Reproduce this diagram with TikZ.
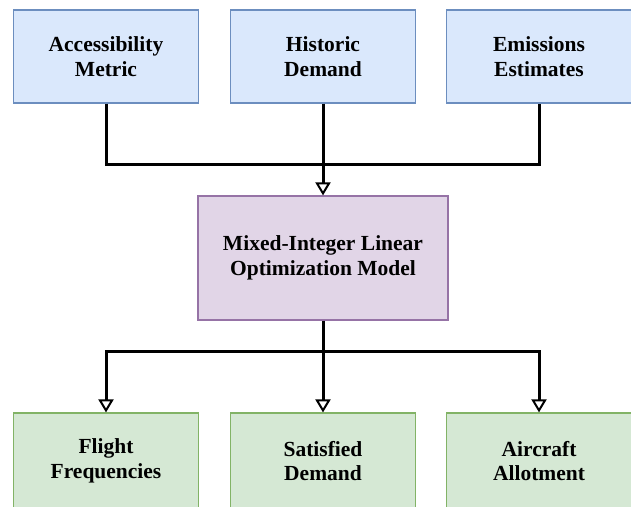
\documentclass[tikz,border=0pt]{standalone}
\usepackage{fontspec}
\newfontfamily\boxfont{Liberation Serif}
\usepackage{tikz}
\usetikzlibrary{arrows.meta}

\definecolor{infill}{HTML}{DAE8FC}
\definecolor{inedge}{HTML}{6C8EBF}
\definecolor{midfill}{HTML}{E1D5E7}
\definecolor{midedge}{HTML}{9673A6}
\definecolor{outfill}{HTML}{D5E8D4}
\definecolor{outedge}{HTML}{82B366}

\begin{document}
\begin{tikzpicture}[x=1pt,y=1pt,
  box/.style={draw, line width=1.2pt, minimum width=185pt, minimum height=93pt,
    align=center, font=\boxfont\bfseries\fontsize{21.5}{24.5}\selectfont},
  inbox/.style={box, draw=inedge, fill=infill},
  outbox/.style={box, draw=outedge, fill=outfill, minimum height=96pt},
  line/.style={line width=3pt},
  arr/.style={line, -{Triangle[open,length=13pt,width=15pt,line width=2pt]}}
]

\clip (0,0) rectangle (631,506);
\fill[white] (0,0) rectangle (631,506);

% inputs
\node[inbox] (acc) at (106,449.5) {Accessibility\\Metric};
\node[inbox] (hist) at (323,449.5) {Historic\\Demand};
\node[inbox] (emis) at (539,449.5) {Emissions\\Estimates};

% model
\node[box, draw=midedge, fill=midfill, minimum width=250pt, minimum height=124pt]
  (milo) at (323,248) {Mixed-Integer Linear\\Optimization Model};

% outputs
\node[outbox] (freq) at (106,45) {Flight\\Frequencies};
\node[outbox] (sat) at (323,45) {Satisfied\\Demand};
\node[outbox] (allot) at (539,45) {Aircraft\\Allotment};

% inputs -> model
\coordinate (top) at (323,341);
\draw[line] (acc.south) |- (top) -| (emis.south);
\draw[arr] (hist.south) -- (milo.north);

% model -> outputs
\coordinate (bot) at (323,154);
\draw[line] (milo.south) -- (bot);
\draw[arr] (bot) -| (freq.north);
\draw[arr] (bot) -- (sat.north);
\draw[arr] (bot) -| (allot.north);

\end{tikzpicture}
\end{document}
